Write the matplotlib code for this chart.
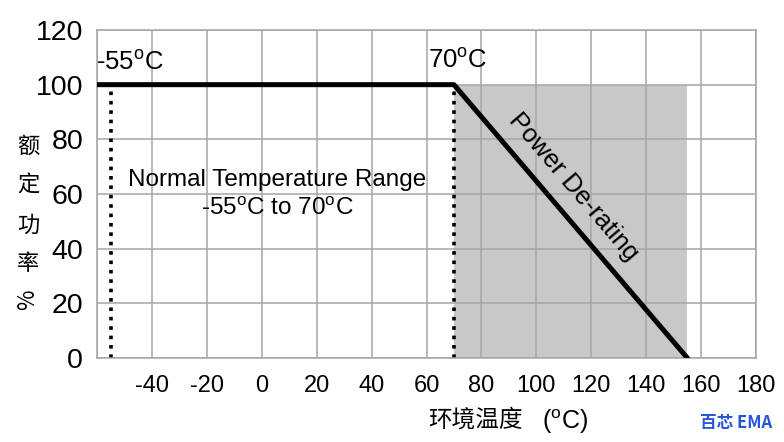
import matplotlib
matplotlib.use("Agg")
import matplotlib.pyplot as plt

# Data
curve_temp = [-60, 70, 155]
curve_power = [100, 100, 0]
shade_temp = [70, 155]
shade_top = [100, 100]
min_temp = -55
knee_temp = 70
x_ticks = [-40, -20, 0, 20, 40, 60, 80, 100, 120, 140, 160, 180]
y_ticks = [0, 20, 40, 60, 80, 100, 120]
ylabel_chars = ["额", "定", "功", "率", "%"]

plt.rcParams['font.family'] = ['Liberation Sans', 'Noto Sans CJK SC', 'DejaVu Sans']

fig = plt.figure(figsize=(7.84, 4.42), dpi=100)
ax = fig.add_axes([97/784, 1 - 358/442, (756-97)/784, (358-30)/442])
ax.set_xlim(-60, 180)
ax.set_ylim(0, 120)

ax.set_axisbelow(True)
ax.fill_between(shade_temp, 0, shade_top, color='#c8c8c8', lw=0, zorder=0.3)
ax.set_xticks([-60] + x_ticks)
ax.set_xticklabels([''] + [str(v) for v in x_ticks])
ax.set_yticks(y_ticks)
ax.set_yticklabels([str(v) for v in y_ticks])
ax.grid(True, color='#a5a5a5', lw=1.1)
ax.tick_params(length=0, labelsize=17, pad=8)
ax.tick_params(axis='y', labelsize=20.5, pad=10)
ax.tick_params(axis='x', pad=12)
for s in ax.spines.values():
    s.set_color('#a5a5a5')
    s.set_linewidth(1.1)

ax.plot(curve_temp, curve_power, color='black', lw=3.6, solid_capstyle='round', zorder=3)
ax.plot([min_temp, min_temp], [0, 100], color='black', lw=2.6, ls=(0, (1, 1.6)), zorder=2)
ax.plot([knee_temp, knee_temp], [0, 100], color='black', lw=2.6, ls=(0, (1, 1.6)), zorder=2)

ax.text(-60.5, 108, r'-55$^{\mathregular{o}}$C', fontsize=18.5, ha='left', va='center')
ax.text(60.7, 109, r'70$^{\mathregular{o}}$C', fontsize=18.5, ha='left', va='center')
ax.text(5.5, 65, 'Normal Temperature Range', fontsize=17.5, ha='center', va='center')
ax.text(5.5, 54.5, r'-55$^{\mathregular{o}}$C to 70$^{\mathregular{o}}$C', fontsize=17.5, ha='center', va='center')
ax.text(113.5, 62.5, 'Power De-rating', fontsize=18.5, ha='center', va='center', rotation=-49.5)

# Y label as stacked characters
ys = [146, 185, 225, 263, 300]
for ch, yp in zip(ylabel_chars, ys):
    rot = 90 if ch == '%' else 0
    fig.text(28/784, 1 - yp/442, ch, fontsize=16, ha='center', va='center', rotation=rot,
             family=['Noto Sans CJK SC', 'DejaVu Sans'])

fig.text(475/784, 1 - 420/442, '环境温度', fontsize=17, ha='center', va='center',
         family=['Noto Sans CJK SC', 'DejaVu Sans'])
fig.text(565/784, 1 - 422/442, r'($^{\mathregular{o}}$C)', fontsize=18, ha='center', va='center')
fig.text(736/784, 1 - 423/442, '百芯 EMA', fontsize=12, ha='center', va='center', color='#2456d6',
         fontweight='bold', family=['Noto Sans CJK SC', 'DejaVu Sans'])

fig.savefig('out.png', dpi=100, facecolor='white')
